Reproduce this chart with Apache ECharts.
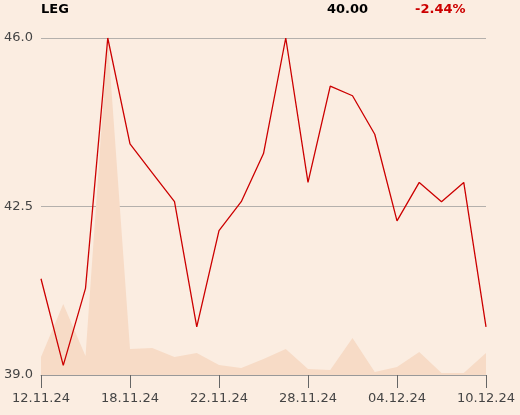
<!DOCTYPE html>
<html><head><meta charset="utf-8">
<script src="https://cdn.jsdelivr.net/npm/echarts@6/dist/echarts.min.js"></script>
<style>html,body{margin:0;padding:0;background:#fbede1;}#c{width:520px;height:415px;}</style>
</head><body><div id="c"></div>
<script>
const dates = ["12.11.24","13.11.24","14.11.24","15.11.24","18.11.24","19.11.24","20.11.24","21.11.24","22.11.24","25.11.24","26.11.24","27.11.24","28.11.24","29.11.24","02.12.24","03.12.24","04.12.24","05.12.24","06.12.24","09.12.24","10.12.24"];
const prices = [41.0,39.2,40.8,46.0,43.8,43.2,42.6,40.0,42.0,42.6,43.6,46.0,43.0,45.0,44.8,44.0,42.2,43.0,42.6,43.0,40.0];
const volumes = [18,71,19,337,26,27,18,22,10,7,16,26,6,5,37,3,8,23,2,2,22];
const yTicks = [39.0,42.5,46.0];
const header = {name:"LEG", last:"40.00", change:"-2.44%"};

const chart = echarts.init(document.getElementById('c'));
const font = 'DejaVu Sans';
chart.setOption({
  backgroundColor:'#fbede1',
  animation:false,
  textStyle:{fontFamily:font},
  title:[
    {text:header.name,left:41,top:3,padding:0,textStyle:{fontFamily:font,fontSize:13,fontWeight:'bold',color:'#000'}},
    {text:header.last,left:327,top:3,padding:0,textStyle:{fontFamily:font,fontSize:13,fontWeight:'bold',color:'#000'}},
    {text:header.change,left:415,top:3,padding:0,textStyle:{fontFamily:font,fontSize:13,fontWeight:'bold',color:'#cc0000'}}
  ],
  grid:{left:41,right:34,top:38,bottom:40,containLabel:false},
  xAxis:{type:'category',data:dates,boundaryGap:false,
    axisLine:{lineStyle:{color:'#999',width:1}},
    axisTick:{interval:3,length:13,lineStyle:{color:'#666'}},
    axisLabel:{interval:3,color:'#444',fontSize:13,fontFamily:font,margin:17},
    splitLine:{show:false}},
  yAxis:[
    {type:'value',min:yTicks[0],max:yTicks[2],interval:yTicks[1]-yTicks[0],
     axisLine:{show:false},axisTick:{show:false},
     axisLabel:{color:'#444',fontSize:13,fontFamily:font,margin:8,formatter:v=>v.toFixed(1)},
     splitLine:{lineStyle:{color:'#b4b0ac',width:1}}},
    {type:'value',min:0,max:337,show:false,splitLine:{show:false}}
  ],
  series:[
    {type:'line',yAxisIndex:1,data:volumes,symbol:'none',lineStyle:{width:0},
     areaStyle:{color:'#f7dbc6',opacity:1},z:1},
    {type:'line',yAxisIndex:0,data:prices,symbol:'none',lineStyle:{color:'#cc0000',width:1.3},z:3}
  ]
});
</script></body></html>
